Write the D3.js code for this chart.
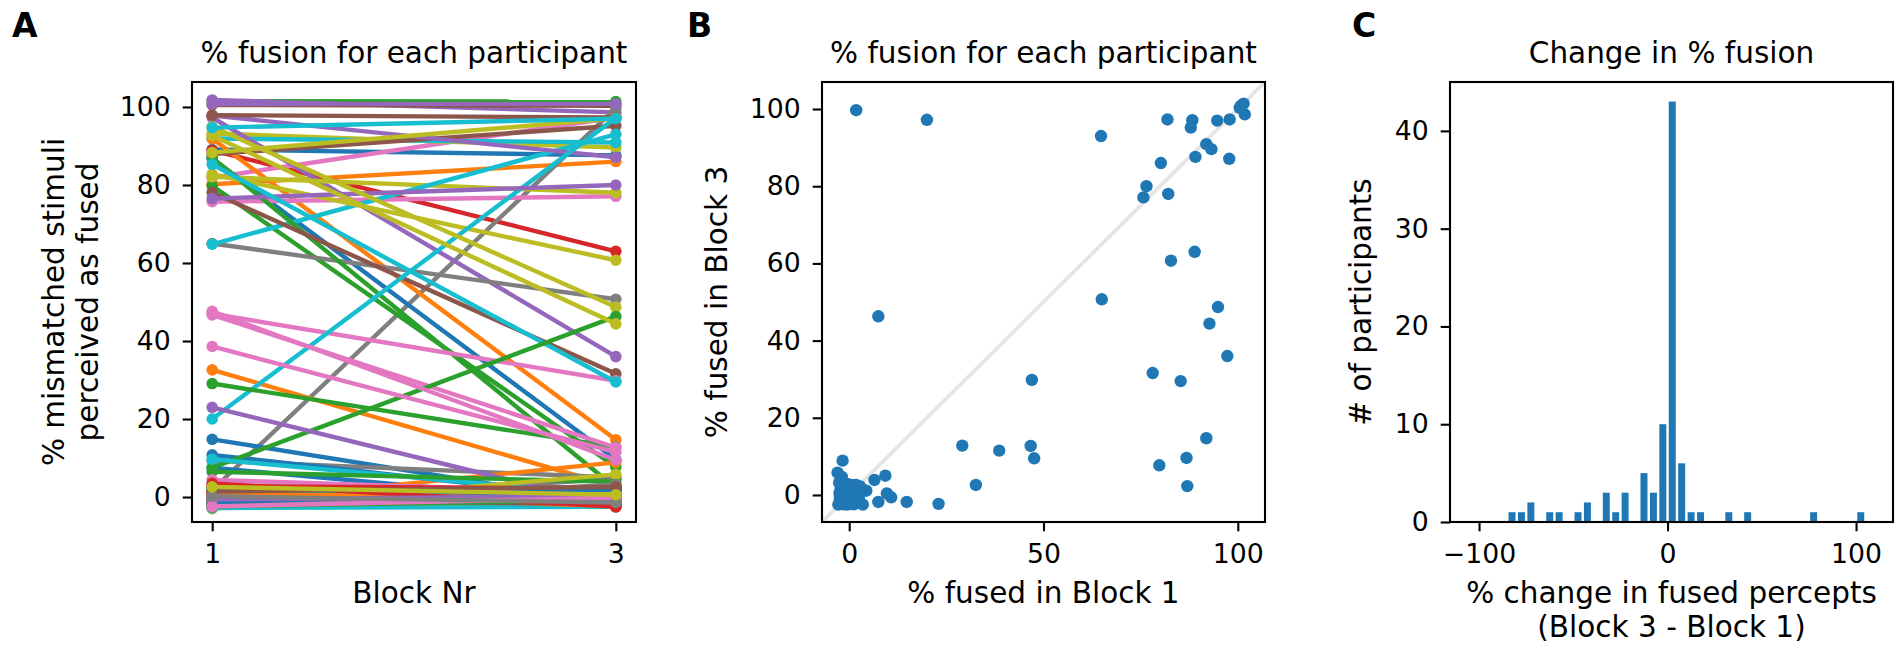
<!DOCTYPE html>
<html>
<head>
<meta charset="utf-8">
<script src="https://cdn.jsdelivr.net/npm/d3@7"></script>
<style>
  body { margin: 0; background: #fff; }
  text { font-family: "DejaVu Sans", sans-serif; fill: #000; }
</style>
</head>
<body>
<div id="chart"></div>
<script>
// per-participant % fused, block 1 and block 3 (order sets the colour cycle)
const block1 = [
  89.1, 80.2, 101.5, 88.9, 101.8, 100.5, 81.9, 1.8, 93.2, 91.9,
  86.8, 91.9, 79.8, -1.5, 97.3, 87.9, 75.7, 65.0, 82.1, 64.8,
  14.8, 32.6, 87.0, -1.0, 97.8, 78.1, 47.0, 9.3, 82.8, 20.0,
  7.5, -1.7, 29.1, 0.5, 76.5, 1.8, 46.7, -1.9, 94.9, 85.3,
  10.8, 1.5, 7.5, -2.0, 23.0, 97.9, 47.6, 0.0, 92.7, 9.7,
  2.5, -1.5, 6.5, 1.0, 100.8, -2.5, 38.6, 0.8, 88.3, 94.7,
  2.0, -0.5, -2.2, 1.8, -1.2, 0.3, 4.4, 3.0, -3.0, -2.8,
  -0.2, 1.2, -1.8, 2.8, 0.6, -0.8, 1.6, -2.6, -0.4, 2.2,
  -1.4, 0.9, -2.4, 3.5, -0.6, 1.4, -2.4, 0.2, 2.6
];
const block3 = [
  87.6, 86.0, 101.4, 63.0, 98.6, 100.3, 97.3, 99.7, 89.6, 90.9,
  9.6, 14.7, 7.7, -1.5, 36.0, 95.2, 77.1, 50.7, 78.0, 93.0,
  -1.8, 2.6, 2.3, 0.8, 87.1, 31.6, 29.8, 5.0, 60.7, 97.2,
  -1.8, 8.9, 12.8, -2.2, 80.0, 2.6, 12.7, 4.7, 48.7, 29.5,
  -0.6, 1.2, 46.3, 2.5, -2.3, 97.3, 9.5, 0.0, 44.4, 0.4,
  -0.8, -2.4, 3.9, 2.0, 100.8, 0.5, 11.5, -1.0, 97.1, 97.0,
  0.3, -2.5, 1.5, -2.0, -0.5, 1.5, 1.1, 1.0, 5.8, -2.5,
  2.8, -2.4, 0.0, 2.2, 0.6, -1.8, -0.2, 3.2, 1.0, -1.5,
  1.9, -0.5, -0.8, -2.5, 0.2, 2.6, -0.2, -1.4, 0.6
];

// histogram of change (block 3 - block 1), bins of width 5
const histBinStart = [-85, -80, -75, -65, -60, -50, -45, -35, -30, -25, -15, -10, -5, 0, 5, 10, 15, 30, 40, 75, 100];
const histCounts   = [1, 1, 2, 1, 1, 1, 2, 3, 1, 3, 5, 3, 10, 43, 6, 1, 1, 1, 1, 1, 1];
const histBinWidth = 5;

const blockTicks = [1, 3];
const pctTicks = [0, 20, 40, 60, 80, 100];
const scatterXTicks = [0, 50, 100];
const changeTicks = [-100, 0, 100];
const countTicks = [0, 10, 20, 30, 40];

const W = 1902, H = 649;
const plotTop = 82, plotBottom = 522;
const panels = {
  A: { left: 192, right: 636 },
  B: { left: 822, right: 1265 },
  C: { left: 1450, right: 1893 }
};
const TICK_FS = 26.7, LABEL_FS = 29.5;
const color = d3.scaleOrdinal(d3.schemeCategory10).domain(d3.range(10));

const svg = d3.select('#chart').append('svg')
  .attr('width', W).attr('height', H);

function styleAxis(g) {
  g.select('.domain').remove();
  g.attr('font-family', null).attr('font-size', null);
  g.selectAll('line').attr('stroke', '#000').attr('stroke-width', 2.1);
  g.selectAll('text').attr('font-size', TICK_FS).attr('fill', '#000');
}

function frame(p, x, y, xticks, yticks, clipId) {
  const g = svg.append('g');
  g.append('g').attr('transform', `translate(0,${plotBottom})`)
    .call(d3.axisBottom(x).tickValues(xticks).tickSize(9.3).tickPadding(13)
      .tickFormat(d3.format('')))
    .call(styleAxis);
  g.append('g').attr('transform', `translate(${p.left},0)`)
    .call(d3.axisLeft(y).tickValues(yticks).tickSize(9.3).tickPadding(12)
      .tickFormat(d3.format('')))
    .call(styleAxis);
  svg.append('clipPath').attr('id', clipId).append('rect')
    .attr('x', p.left).attr('y', plotTop)
    .attr('width', p.right - p.left).attr('height', plotBottom - plotTop);
  return g;
}

function border(p) {
  svg.append('rect')
    .attr('x', p.left).attr('y', plotTop)
    .attr('width', p.right - p.left).attr('height', plotBottom - plotTop)
    .attr('fill', 'none').attr('stroke', '#000').attr('stroke-width', 2.1);
}

function title(p, txt) {
  svg.append('text').attr('x', (p.left + p.right) / 2).attr('y', 63)
    .attr('text-anchor', 'middle').attr('font-size', LABEL_FS).text(txt);
}

function xlabel(p, lines) {
  lines.forEach((t, i) => {
    svg.append('text').attr('x', (p.left + p.right) / 2).attr('y', 603 + i * 34)
      .attr('text-anchor', 'middle').attr('font-size', LABEL_FS).text(t);
  });
}

function ylabel(xs, lines) {
  const cy = (plotTop + plotBottom) / 2;
  lines.forEach((t, i) => {
    svg.append('text')
      .attr('transform', `translate(${xs[i]},${cy}) rotate(-90)`)
      .attr('text-anchor', 'middle').attr('font-size', LABEL_FS).text(t);
  });
}

function letter(x, t) {
  svg.append('text').attr('x', x).attr('y', 37)
    .attr('font-family', '"Liberation Sans", Arial, sans-serif')
    .attr('font-weight', 'bold').attr('font-size', 33).text(t);
}

// ---- Panel A: paired lines ----
{
  const p = panels.A;
  const x = d3.scaleLinear().domain([0.9, 3.1]).range([p.left, p.right]);
  const y = d3.scaleLinear().domain([-6.4, 106.4]).range([plotBottom, plotTop]);
  frame(p, x, y, blockTicks, pctTicks, 'clipA');
  const g = svg.append('g').attr('clip-path', 'url(#clipA)');
  block1.forEach((v, i) => {
    const c = color(i % 10);
    const pg = g.append('g');
    pg.append('line')
      .attr('x1', x(1)).attr('y1', y(v))
      .attr('x2', x(3)).attr('y2', y(block3[i]))
      .attr('stroke', c).attr('stroke-width', 4.4).attr('stroke-linecap', 'butt');
    pg.selectAll('circle').data([[1, v], [3, block3[i]]]).enter()
      .append('circle')
      .attr('cx', d => x(d[0])).attr('cy', d => y(d[1]))
      .attr('r', 5.8).attr('fill', c);
  });
  border(p);
  title(p, '% fusion for each participant');
  xlabel(p, ['Block Nr']);
  ylabel([64, 98], ['% mismatched stimuli', 'perceived as fused']);
  letter(12, 'A');
}

// ---- Panel B: scatter block 1 vs block 3 ----
{
  const p = panels.B;
  const x = d3.scaleLinear().domain([-7, 107]).range([p.left, p.right]);
  const y = d3.scaleLinear().domain([-7, 107]).range([plotBottom, plotTop]);
  frame(p, x, y, scatterXTicks, pctTicks, 'clipB');
  const g = svg.append('g').attr('clip-path', 'url(#clipB)');
  g.append('line')
    .attr('x1', x(-7)).attr('y1', y(-7)).attr('x2', x(107)).attr('y2', y(107))
    .attr('stroke', '#e5e5e5').attr('stroke-width', 3.8);
  g.selectAll('circle').data(block1.map((v, i) => [v, block3[i]])).enter()
    .append('circle')
    .attr('cx', d => x(d[0])).attr('cy', d => y(d[1]))
    .attr('r', 6.2).attr('fill', '#1f77b4');
  border(p);
  title(p, '% fusion for each participant');
  xlabel(p, ['% fused in Block 1']);
  ylabel([727], ['% fused in Block 3']);
  letter(687, 'B');
}

// ---- Panel C: histogram of change ----
{
  const p = panels.C;
  const x = d3.scaleLinear().domain([-115.4, 119.6]).range([p.left, p.right]);
  const y = d3.scaleLinear().domain([0, 45]).range([plotBottom, plotTop]);
  frame(p, x, y, changeTicks, countTicks, 'clipC');
  const g = svg.append('g').attr('clip-path', 'url(#clipC)');
  const bw = x(histBinWidth) - x(0);
  g.selectAll('rect').data(histBinStart.map((s, i) => [s, histCounts[i]])).enter()
    .append('rect')
    .attr('x', d => x(d[0]) + bw * 0.13)
    .attr('width', bw * 0.74)
    .attr('y', d => y(d[1]))
    .attr('height', d => y(0) - y(d[1]))
    .attr('fill', '#1f77b4');
  border(p);
  title(p, 'Change in % fusion');
  xlabel(p, ['% change in fused percepts', '(Block 3 - Block 1)']);
  ylabel([1371], ['# of participants']);
  letter(1352, 'C');
}
</script>
</body>
</html>
